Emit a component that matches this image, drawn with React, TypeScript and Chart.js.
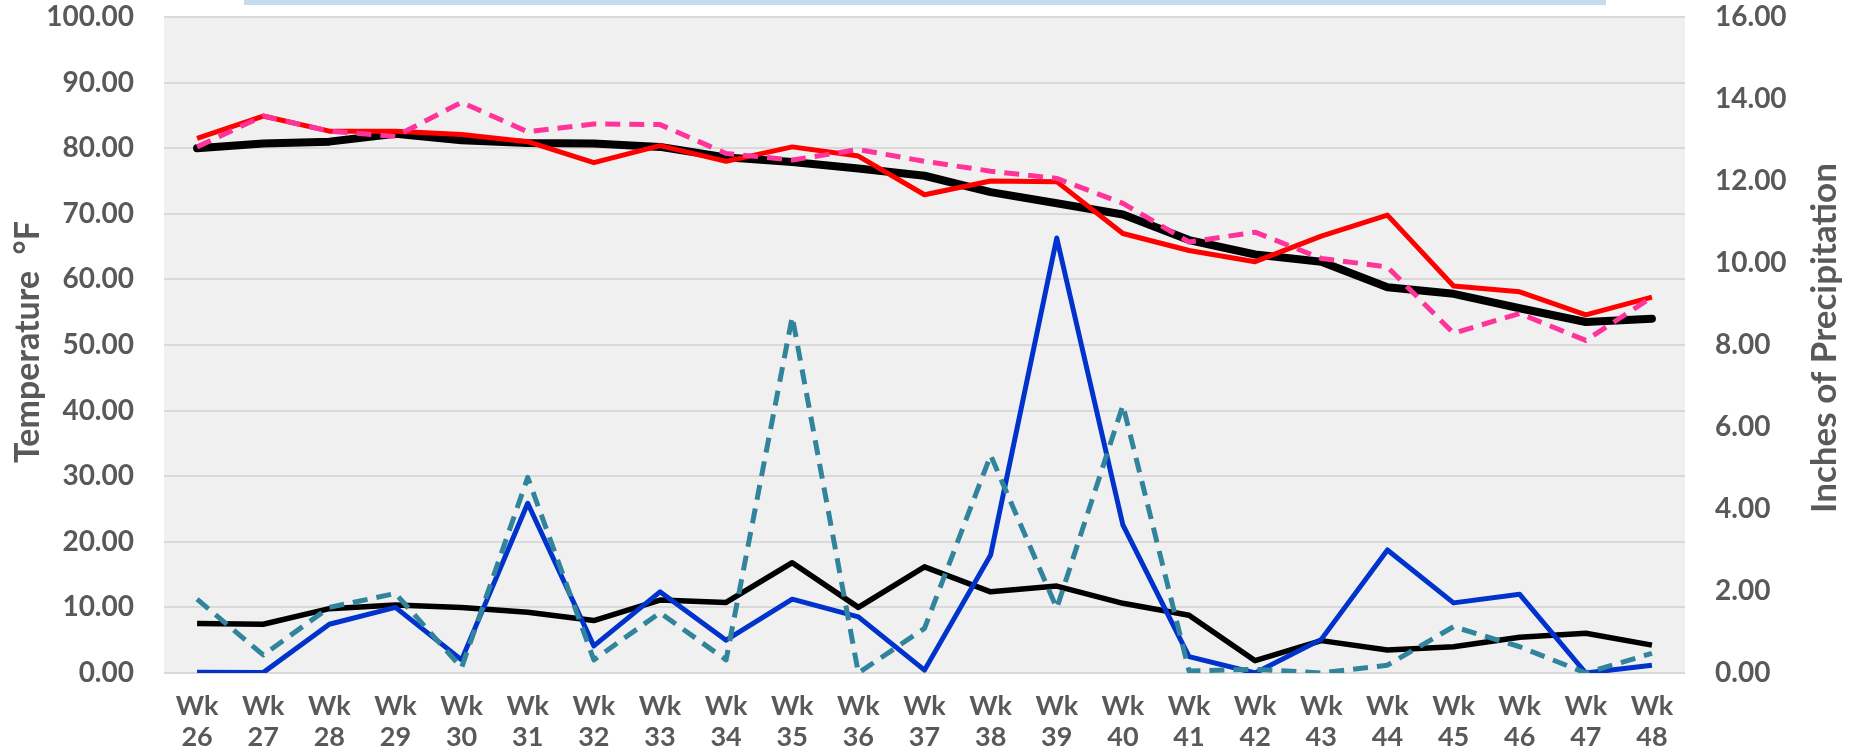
import React, { useEffect, useRef } from 'react';
import { Chart, registerables } from 'chart.js';

Chart.register(...registerables);

const weekNumbers = ['26', '27', '28', '29', '30', '31', '32', '33', '34', '35', '36', '37', '38', '39', '40', '41', '42', '43', '44', '45', '46', '47', '48'];

const tempNormal = [80.0, 80.7, 81.0, 82.2, 81.2, 80.8, 80.7, 80.2, 78.6, 77.9, 76.9, 75.8, 73.3, 71.6, 69.9, 66.0, 63.8, 62.7, 58.8, 57.8, 55.6, 53.5, 54.0];
const tempActual = [81.5, 84.9, 82.6, 82.6, 82.1, 81.0, 77.8, 80.4, 78.0, 80.2, 78.8, 72.9, 75.0, 74.9, 67.0, 64.4, 62.7, 66.6, 69.8, 59.0, 58.1, 54.6, 57.3];
const tempLastYear = [80.2, 84.9, 82.6, 81.8, 87.0, 82.5, 83.7, 83.6, 79.2, 78.2, 79.8, 78.0, 76.5, 75.4, 71.6, 65.7, 67.2, 63.2, 61.9, 51.8, 54.8, 50.7, 57.3];

const precipNormal = [1.21, 1.19, 1.57, 1.66, 1.60, 1.48, 1.28, 1.78, 1.72, 2.69, 1.60, 2.59, 1.98, 2.12, 1.70, 1.41, 0.30, 0.79, 0.56, 0.64, 0.87, 0.97, 0.68];
const precipActual = [0.02, 0.01, 1.19, 1.60, 0.32, 4.14, 0.66, 1.98, 0.80, 1.80, 1.37, 0.07, 2.88, 10.61, 3.61, 0.40, 0.0, 0.82, 3.0, 1.71, 1.92, 0.0, 0.19];
const precipLastYear = [1.80, 0.44, 1.60, 1.94, 0.13, 4.77, 0.32, 1.47, 0.32, 8.69, 0.0, 1.09, 5.31, 1.58, 6.53, 0.05, 0.09, 0.0, 0.19, 1.13, 0.64, 0.0, 0.48];

const tempTitle = 'Temperature  \u00B0F';
const precipTitle = 'Inches of Precipitation';

const TEXT_COLOR = '#595959';
const FONT_FAMILY = 'Lato, "Open Sans", sans-serif';

export default function App() {
  const canvasRef = useRef<HTMLCanvasElement>(null);

  useEffect(() => {
    const canvas = canvasRef.current;
    if (!canvas) return;

    const plotBackground = {
      id: 'plotBackground',
      beforeDraw(chart: any) {
        const { ctx, chartArea } = chart;
        ctx.save();
        ctx.fillStyle = '#f0f0f0';
        ctx.fillRect(chartArea.left, chartArea.top, chartArea.right - chartArea.left, chartArea.bottom - chartArea.top);
        ctx.restore();
      },
    };

    const axisTitles = {
      id: 'axisTitles',
      afterDraw(chart: any) {
        const { ctx, chartArea } = chart;
        const midY = (chartArea.top + chartArea.bottom) / 2;
        ctx.save();
        ctx.fillStyle = TEXT_COLOR;
        ctx.textAlign = 'center';
        ctx.textBaseline = 'middle';
        ctx.save();
        ctx.font = `bold 34px ${FONT_FAMILY}`;
        ctx.translate(28, midY - 3);
        ctx.rotate(-Math.PI / 2);
        ctx.fillText(tempTitle, 0, 0);
        ctx.restore();
        ctx.save();
        ctx.font = `bold 35px ${FONT_FAMILY}`;
        ctx.translate(chartArea.right + 140, midY - 7);
        ctx.rotate(-Math.PI / 2);
        ctx.fillText(precipTitle, 0, 0);
        ctx.restore();
        ctx.restore();
      },
    };

    const labels = weekNumbers.map((w) => ['Wk', w]);

    const fixVertical = (width: number) => (scale: any) => {
      scale.width = width;
      scale.paddingTop = 16;
      scale.paddingBottom = 16;
    };

    const chart = new Chart(canvas, {
      type: 'line',
      data: {
        labels,
        datasets: [
          {
            label: 'Precip Last Year',
            data: precipLastYear,
            yAxisID: 'yP',
            borderColor: '#31849b',
            borderWidth: 5,
            borderDash: [15, 9],
            order: 0,
          },
          {
            label: 'Precip Actual',
            data: precipActual,
            yAxisID: 'yP',
            borderColor: '#0033cc',
            borderWidth: 5,
            order: 1,
          },
          {
            label: 'Precip Normal',
            data: precipNormal,
            yAxisID: 'yP',
            borderColor: '#000000',
            borderWidth: 5.5,
            order: 2,
          },
          {
            label: 'Temp Last Year',
            data: tempLastYear,
            yAxisID: 'yT',
            borderColor: '#ff3399',
            borderWidth: 5,
            borderDash: [15, 9],
            order: 3,
          },
          {
            label: 'Temp Actual',
            data: tempActual,
            yAxisID: 'yT',
            borderColor: '#ff0000',
            borderWidth: 5,
            order: 4,
          },
          {
            label: 'Temp Normal',
            data: tempNormal,
            yAxisID: 'yT',
            borderColor: '#000000',
            borderWidth: 8,
            borderCapStyle: 'round',
            order: 5,
          },
        ],
      },
      options: {
        responsive: false,
        animation: false,
        devicePixelRatio: 1,
        layout: { padding: { top: 17, left: 0, right: 0, bottom: 0 } },
        elements: {
          point: { radius: 0, hoverRadius: 0 },
          line: { tension: 0, fill: false, borderJoinStyle: 'round' },
        },
        plugins: {
          legend: { display: false },
          tooltip: { enabled: false },
          title: { display: false },
        },
        scales: {
          x: {
            type: 'category',
            offset: true,
            grid: { display: false },
            border: { display: false },
            ticks: {
              color: TEXT_COLOR,
              font: { family: FONT_FAMILY, weight: 'bold', size: 27, lineHeight: '31px' },
              padding: 10,
              maxRotation: 0,
              autoSkip: false,
            },
            afterFit(scale: any) {
              scale.height = 79;
            },
          },
          yT: {
            type: 'linear',
            position: 'left',
            min: 0,
            max: 100,
            grid: { color: '#d9d9d9', lineWidth: 2, drawTicks: false },
            border: { display: false },
            ticks: {
              stepSize: 10,
              color: TEXT_COLOR,
              padding: 30,
              font: { family: FONT_FAMILY, weight: 'bold', size: 28 },
              callback: (v: any) => Number(v).toFixed(2),
            },
            afterFit: fixVertical(164),
          },
          yP: {
            type: 'linear',
            position: 'right',
            min: 0,
            max: 16,
            grid: { drawOnChartArea: false, drawTicks: false },
            border: { display: false },
            ticks: {
              stepSize: 2,
              color: TEXT_COLOR,
              padding: 30,
              font: { family: FONT_FAMILY, weight: 'bold', size: 28 },
              callback: (v: any) => Number(v).toFixed(2),
            },
            afterFit: fixVertical(166),
          },
        },
      },
      plugins: [plotBackground, axisTitles],
    } as any);

    return () => {
      chart.destroy();
    };
  }, []);

  return (
    <div style={{ position: 'absolute', left: 0, top: 0, width: 1851, height: 752, background: '#ffffff' }}>
      <canvas ref={canvasRef} width={1851} height={752} style={{ display: 'block', width: 1851, height: 752 }} />
      <div style={{ position: 'absolute', left: 244, top: 0, width: 1362, height: 5, background: '#c5dbee' }} />
    </div>
  );
}
